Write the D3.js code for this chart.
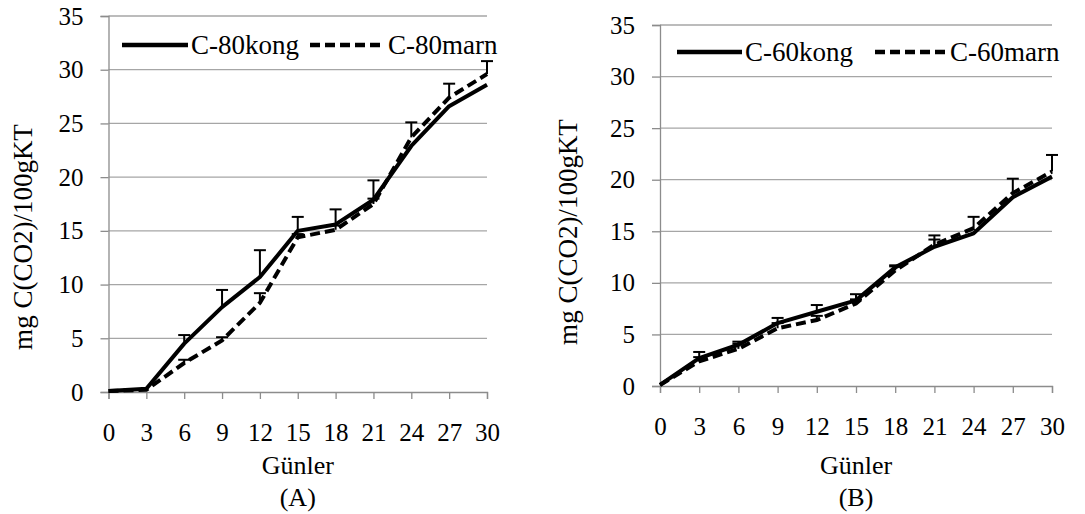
<!DOCTYPE html>
<html>
<head>
<meta charset="utf-8">
<script src="https://cdn.jsdelivr.net/npm/d3@7"></script>
<style>
body { margin: 0; background: #fff; }
</style>
</head>
<body>
<svg id="chart" width="1085" height="514"></svg>
<script>
// days
var days = [0, 3, 6, 9, 12, 15, 18, 21, 24, 27, 30];
var yTicks = [0, 5, 10, 15, 20, 25, 30, 35];

// panel A
var kongA = [0.1, 0.3, 4.5, 7.9, 10.7, 15.0, 15.6, 17.9, 22.9, 26.6, 28.6];
var marnA = [0.1, 0.2, 2.7, 4.8, 8.3, 14.4, 15.1, 17.5, 23.7, 27.4, 29.6];
var kongAErr = [0, 0, 0.8, 1.6, 2.5, 1.3, 1.4, 1.8, 0, 0, 0];
var marnAErr = [0, 0, 0.3, 0.3, 0.9, 0.3, 0.4, 0.5, 1.4, 1.3, 1.2];

// panel B
var kongB = [0.1, 2.7, 4.0, 6.1, 7.2, 8.3, 11.5, 13.5, 14.8, 18.3, 20.3];
var marnB = [0.1, 2.4, 3.6, 5.6, 6.4, 8.0, 11.2, 13.7, 15.3, 18.7, 20.8];
var kongBErr = [0, 0.6, 0.3, 0.5, 0.65, 0.6, 0.2, 1.1, 0, 0, 0];
var marnBErr = [0, 0.4, 0.5, 0.5, 0.4, 0.4, 0.4, 0.5, 1.1, 1.4, 1.6];

var FONT = "Liberation Serif";
var svg = d3.select("#chart").attr("font-family", FONT);

function drawPanel(p) {
  var x = d3.scaleLinear().domain([0, 30]).range([p.left, p.right]);
  var y = d3.scaleLinear().domain([0, 35]).range([p.bottom, p.top]);
  var g = svg.append("g");

  // grid lines
  g.selectAll(".grid")
    .data(yTicks.slice(1))
    .enter().append("line")
    .attr("x1", p.left).attr("x2", p.right)
    .attr("y1", function(d) { return y(d); })
    .attr("y2", function(d) { return y(d); })
    .style("stroke", "#a6a6a6")
    .style("stroke-width", 1.3);

  // y axis
  var yAxis = d3.axisLeft(y).tickValues(yTicks).tickSize(8).tickPadding(17);
  var ya = g.append("g").attr("transform", "translate(" + p.left + ",0)").call(yAxis)
    .attr("font-family", FONT).attr("font-size", 25);
  ya.select(".domain").style("stroke", "#8c8c8c").style("stroke-width", 1.3);
  ya.selectAll(".tick line").style("stroke", "#8c8c8c").style("stroke-width", 1.3);

  // x axis
  var xAxis = d3.axisBottom(x).tickValues(days).tickSize(7).tickPadding(24);
  var xa = g.append("g").attr("transform", "translate(0," + p.bottom + ")").call(xAxis)
    .attr("font-family", FONT).attr("font-size", 25);
  xa.select(".domain").style("stroke", "#8c8c8c").style("stroke-width", 1.3);
  xa.selectAll(".tick line").style("stroke", "#8c8c8c").style("stroke-width", 1.3);

  var line = d3.line()
    .x(function(d, i) { return x(days[i]); })
    .y(function(d) { return y(d); });

  // error bars (upper only)
  [[p.kong, p.kongErr], [p.marn, p.marnErr]].forEach(function(s) {
    var vals = s[0], err = s[1];
    var idx = days.map(function(d, i) { return i; }).filter(function(i) { return err[i] > 0; });
    g.selectAll(null).data(idx).enter().append("line")
      .attr("x1", function(i) { return x(days[i]); })
      .attr("x2", function(i) { return x(days[i]); })
      .attr("y1", function(i) { return y(vals[i]); })
      .attr("y2", function(i) { return y(vals[i] + err[i]); })
      .style("stroke", "#000").style("stroke-width", 2);
    g.selectAll(null).data(idx).enter().append("line")
      .attr("x1", function(i) { return x(days[i]) - 6; })
      .attr("x2", function(i) { return x(days[i]) + 6; })
      .attr("y1", function(i) { return y(vals[i] + err[i]); })
      .attr("y2", function(i) { return y(vals[i] + err[i]); })
      .style("stroke", "#000").style("stroke-width", 2);
  });

  g.append("path").datum(p.kong)
    .attr("d", line)
    .style("fill", "none").style("stroke", "#000").style("stroke-width", 4)
    .style("stroke-linejoin", "round");
  g.append("path").datum(p.marn)
    .attr("d", line)
    .style("fill", "none").style("stroke", "#000").style("stroke-width", 4)
    .style("stroke-dasharray", "10,5");

  // legend
  var lg = g.append("g").attr("font-size", 27);
  lg.append("line").attr("x1", p.leg[0]).attr("x2", p.leg[1])
    .attr("y1", p.legY).attr("y2", p.legY)
    .style("stroke", "#000").style("stroke-width", 4.5);
  lg.append("text").attr("x", p.leg[1] + 3).attr("y", p.legY)
    .attr("dy", "0.35em").text(p.names[0]);
  lg.append("line").attr("x1", p.leg[2]).attr("x2", p.leg[3])
    .attr("y1", p.legY).attr("y2", p.legY)
    .style("stroke", "#000").style("stroke-width", 4.5)
    .style("stroke-dasharray", "10,5");
  lg.append("text").attr("x", p.leg[3] + 3).attr("y", p.legY)
    .attr("dy", "0.35em").text(p.names[1]);

  // axis titles
  var cx = (p.left + p.right) / 2;
  g.append("text").attr("x", cx).attr("y", 465).attr("dy", "0.35em")
    .attr("text-anchor", "middle").attr("font-size", 26).text("Günler");
  g.append("text").attr("x", cx).attr("y", 497).attr("dy", "0.35em")
    .attr("text-anchor", "middle").attr("font-size", 26).text(p.label);
  g.append("text")
    .attr("transform", "translate(" + p.titleX + "," + p.titleY + ") rotate(-90)")
    .attr("dy", "0.35em").attr("text-anchor", "middle")
    .attr("font-size", 27).text("mg C(CO2)/100gKT");
}

drawPanel({
  left: 108.5, right: 487, top: 16, bottom: 392,
  kong: kongA, marn: marnA, kongErr: kongAErr, marnErr: marnAErr,
  leg: [122, 188, 310, 385], legY: 45,
  names: ["C-80kong", "C-80marn"], label: "(A)", titleX: 23, titleY: 237
});

drawPanel({
  left: 660, right: 1052, top: 25, bottom: 386,
  kong: kongB, marn: marnB, kongErr: kongBErr, marnErr: marnBErr,
  leg: [677, 742, 875, 947], legY: 52,
  names: ["C-60kong", "C-60marn"], label: "(B)", titleX: 568, titleY: 232
});
</script>
</body>
</html>
